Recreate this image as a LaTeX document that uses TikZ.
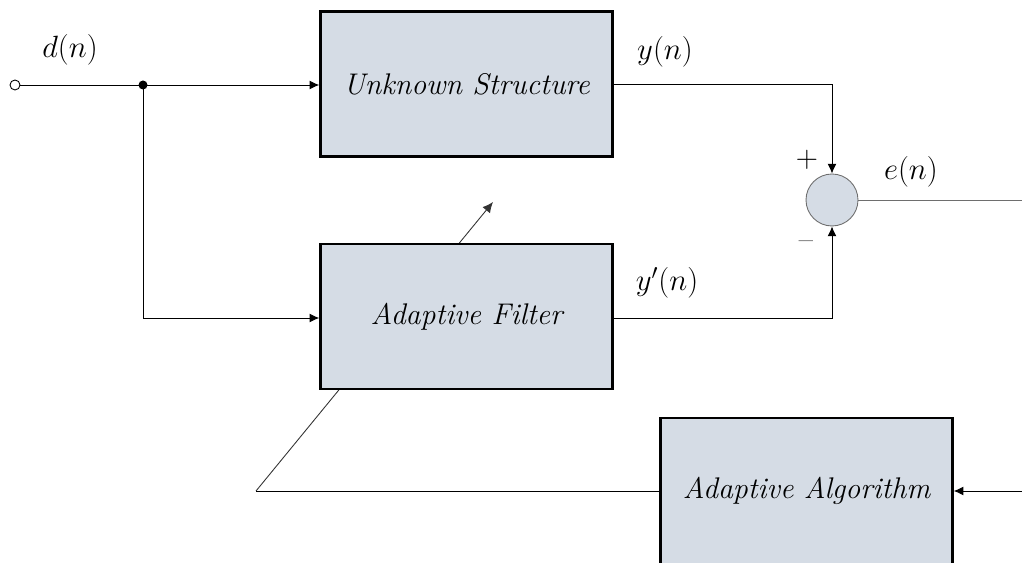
\RequirePackage{fix-cm}
\documentclass[tikz,border=0pt]{standalone}
\usetikzlibrary{arrows.meta}
\definecolor{boxfill}{HTML}{D5DCE5}
\definecolor{wiregray}{HTML}{6E6E6E}
\begin{document}
\begin{tikzpicture}[x=0.02cm,y=-0.02cm,
  block/.style={draw=black, line width=1.4pt, fill=boxfill, minimum width=5.84cm, minimum height=2.9cm, inner sep=0pt, font=\fontsize{17}{20}\selectfont\itshape},
  sumnode/.style={circle, draw=wiregray, line width=0.5pt, fill=boxfill, minimum size=1.04cm, inner sep=0pt},
  port/.style={circle, draw=black, line width=0.5pt, fill=white, minimum size=0.2cm, inner sep=0pt},
  wire/.style={line width=0.5pt, draw=black},
  sig/.style={wire, -{Latex[length=5.5pt,width=5pt]}},
  lbl/.style={font=\fontsize{17.5}{21}\selectfont, inner sep=0pt}]
\useasboundingbox (0,0) rectangle (1022,563);
\clip (0,0) rectangle (1022,563);

% adaptation arrow, partly hidden behind the filter block
\coordinate (corner) at (256,491);
\coordinate (tune) at (493,202);
\draw[line width=0.5pt, draw=wiregray, -{Latex[length=6pt,width=5.5pt]}, color=black!80] (corner) -- (tune);

% blocks
\node[block] (us) at (466.5,84) {Unknown Structure};
\node[block] (af) at (466.5,316.5) {Adaptive Filter};
\node[block, minimum height=3.4cm, anchor=north] (aa) at (806.5,417) {};
\node[font=\fontsize{17}{20}\selectfont\itshape] (aat) at (806.5,491) {Adaptive Algorithm};
\node[sumnode] (sum) at (832,200) {};

% input and branch point
\node[port] (in) at (15,85) {};
\coordinate (j) at (143,85);
\coordinate (eout) at (1022,200);
\coordinate (ain) at (1022,491);

\draw[sig] (in) -- (us.west |- in);
\fill (j) circle (4.5);
\draw[sig] (j) |- (af.west |- 0,318);
\draw[sig] (us.east |- 0,84) -| (sum.north);
\draw[sig] (af.east |- 0,318) -| (sum.south);
\draw[line width=0.5pt, draw=wiregray] (sum.east) -- (eout);
\draw[sig] (ain) -- (aa.east |- ain);
\draw[wire] (aa.west |- corner) -- (corner);

% signal labels
\node[lbl] (ld) at (70,50) {$d(n)$};
\node[lbl] (ly) at (665,52) {$y(n)$};
\node[lbl] (lyp) at (667,283) {$y'(n)$};
\node[lbl] (le) at (911,172) {$e(n)$};
\node[lbl] (lp) at (807,160) {$+$};
\node[lbl] (lm) at (806,245) {\textendash};
\end{tikzpicture}
\end{document}
